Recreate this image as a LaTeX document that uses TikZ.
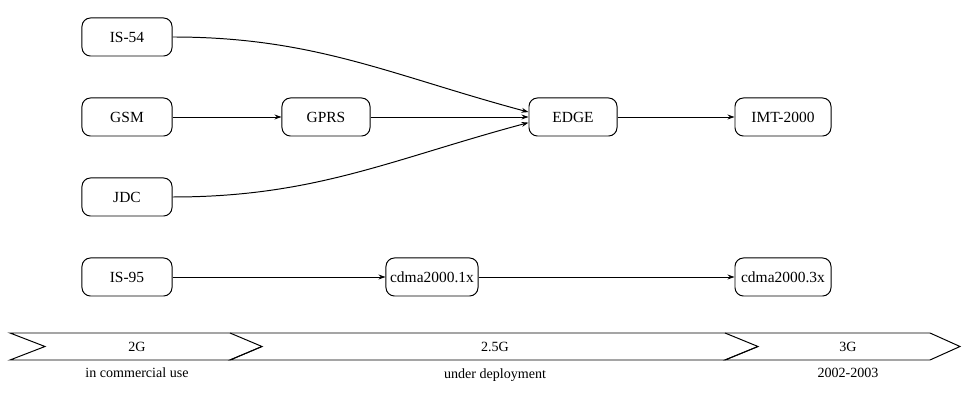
\documentclass[tikz,border=0pt]{standalone}
\usepackage{fontspec}
\setmainfont{Liberation Serif}
\usetikzlibrary{arrows.meta}
\tikzset{
  techbox/.style={draw, rounded corners=6pt, minimum width=2.25cm, minimum height=0.95cm,
    line width=0.7pt, inner sep=2pt, font=\fontsize{11}{13}\selectfont},
  evolve/.style={-{Stealth[length=5pt,width=3.5pt]}, line width=0.7pt},
  phase/.style={draw, line width=0.7pt, line join=miter},
  phaselabel/.style={font=\fontsize{10}{12}\selectfont}
}
\begin{document}
\begin{tikzpicture}[x=0.025cm,y=-0.025cm]
  \useasboundingbox (0,0) rectangle (962,418);
  % technologies
  \node[techbox] (is54) at (127,37) {IS-54};
  \node[techbox] (gsm) at (127,117) {GSM};
  \node[techbox] (jdc) at (127,197) {JDC};
  \node[techbox] (is95) at (127,277) {IS-95};
  \node[techbox, minimum width=2.2cm] (gprs) at (326,117) {GPRS};
  \node[techbox, minimum width=2.2cm] (edge) at (573,117) {EDGE};
  \node[techbox, minimum width=2.4cm] (imt) at (783,117) {IMT-2000};
  \node[techbox, minimum width=2.3cm] (cdma1x) at (432,277) {cdma2000.1x};
  \node[techbox, minimum width=2.4cm] (cdma3x) at (783,277) {cdma2000.3x};
  % evolution paths
  \begin{scope}[evolve]
    \draw (is54.east) to[out=0,in=165] ([yshift=3.5pt]edge.west);
    \draw (gsm) -- (gprs);
    \draw (gprs) -- (edge);
    \draw (jdc.east) to[out=0,in=-165] ([yshift=-4pt]edge.west);
    \draw (edge) -- (imt);
    \draw (is95) -- (cdma1x);
    \draw (cdma1x) -- (cdma3x);
  \end{scope}
  % generation timeline
  \draw[phase] (10,333) -- (230,333) -- (262,346.5) -- (230,360) -- (10,360) -- (45,346.5) -- cycle;
  \draw[phase] (230,333) -- (725,333) -- (758,346.5) -- (725,360) -- (230,360) -- (262,346.5);
  \draw[phase] (725,333) -- (930,333) -- (960,346.5) -- (930,360) -- (725,360) -- (758,346.5);
  \node[phaselabel] (g2) at (137,346.5) {2G};
  \node[phaselabel] (g25) at (495,346.5) {2.5G};
  \node[phaselabel] (g3) at (848,346.5) {3G};
  \node[phaselabel] (g2note) at (137,373) {in commercial use};
  \node[phaselabel] (g25note) at (495,375) {under deployment};
  \node[phaselabel] (g3note) at (848,373) {2002-2003};
\end{tikzpicture}
\end{document}
